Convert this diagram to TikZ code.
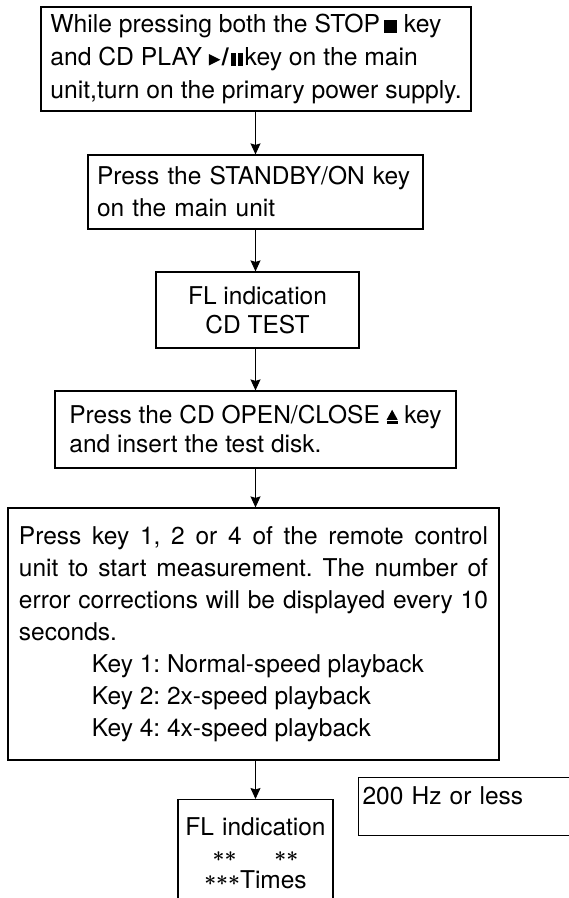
\documentclass[tikz,border=0pt]{standalone}
\usepackage{fontspec}
\setmainfont{TeX Gyre Heros}
\usetikzlibrary{arrows.meta}
\setlength{\parindent}{0pt}
\frenchspacing
\newcommand{\stopsym}{\rule{13pt}{13pt}}
\newcommand{\playsym}{\tikz[x=1pt,y=1pt,baseline=0pt]\fill (0,0) -- (11.5,5.75) -- (0,11.5) -- cycle;}
\newcommand{\pausesym}{\tikz[x=1pt,y=1pt,baseline=0pt]{\fill (0,0) rectangle (4.8,13); \fill (6.8,0) rectangle (11.6,13);}}
\newcommand{\ejectsym}{\tikz[x=1pt,y=1pt,baseline=0pt]{\fill (0,4.2) -- (11,4.2) -- (5.5,14.2) -- cycle; \fill (0,0) rectangle (11,2.8);}}
\newcommand{\astsym}{\raisebox{3.5pt}{$\boldsymbol{\ast}$}}
\usepackage{amsmath}
\tikzset{
  box/.style={draw, line width=1.2pt, rectangle, inner ysep=0pt},
  arr/.style={line width=1pt, -{Stealth[length=11pt,width=10pt,inset=1.5pt]}}
}
\begin{document}
\begin{tikzpicture}[x=1pt,y=-1pt]
\useasboundingbox (0,0) rectangle (569,898);
\coordinate (ax) at (255.5,0);

\node[box, minimum width=430, minimum height=104, inner xsep=0, align=left,
      font=\fontsize{24.7}{33}\selectfont] (b1) at (256,59)
  {While pressing both the STOP\hspace{4pt}\stopsym\ key\\and CD PLAY \playsym\hspace{1.5pt}\textbf{/}\hspace{2pt}\pausesym\hspace{2pt}key on the main\\unit,turn on the primary power supply.};

\node[box, minimum width=335, minimum height=74, text width=317, inner xsep=9, align=left,
      font=\fontsize{24.5}{32}\selectfont] (b2) at (255.5,192)
  {Press the STANDBY/ON key\\on the main unit};

\node[box, minimum width=203, minimum height=76, inner xsep=0, align=center,
      font=\fontsize{24.5}{29}\selectfont] (b3) at (257.5,310)
  {FL indication\\CD TEST};

\node[box, minimum width=401, minimum height=77, inner xsep=0, align=left,
      font=\fontsize{24.5}{29}\selectfont] (b4) at (255.5,429.5)
  {Press the CD OPEN/CLOSE \ejectsym\ key\\and insert the test disk.};

\node[box, minimum width=491, minimum height=252, text width=469, inner xsep=11, align=justify,
      font=\fontsize{24.5}{32}\selectfont] (b5) at (253.5,634)
  {Press key 1, 2 or 4 of the remote control\linebreak
   unit to start measurement. The number of\linebreak
   error corrections will be displayed every 10\linebreak
   seconds.\par
   \hspace*{73pt}Key 1: Normal-speed playback\par
   \hspace*{73pt}Key 2: 2x-speed playback\par
   \hspace*{73pt}Key 4: 4x-speed playback};

\node[box, anchor=north, minimum width=155, text width=155, inner xsep=0, inner ysep=18.5,
      text height=17.5, text depth=80, align=center,
      font=\fontsize{24.5}{29.5}\selectfont] (b6) at (255.5,799)
  {FL indication\\
   {\fontsize{20}{20}\selectfont\astsym\astsym\hspace{38pt}\astsym\astsym}\\[-6pt]
   {\fontsize{20}{20}\selectfont\astsym\astsym\astsym}Times};

\node[box, anchor=north west, minimum width=260, text width=252, inner xsep=4, inner ysep=9.5,
      text height=17.5, text depth=21.5, align=left,
      font=\fontsize{24.5}{29}\selectfont] (b7) at (358,777)
  {200 Hz or less};

\draw[arr] (b1.south -| ax) -- (b2.north -| ax);
\draw[arr] (b2.south -| ax) -- (b3.north -| ax);
\draw[arr] (b3.south -| ax) -- (b4.north -| ax);
\draw[arr] (b4.south -| ax) -- (b5.north -| ax);
\draw[arr] (b5.south -| ax) -- (b6.north -| ax);
\end{tikzpicture}
\end{document}
